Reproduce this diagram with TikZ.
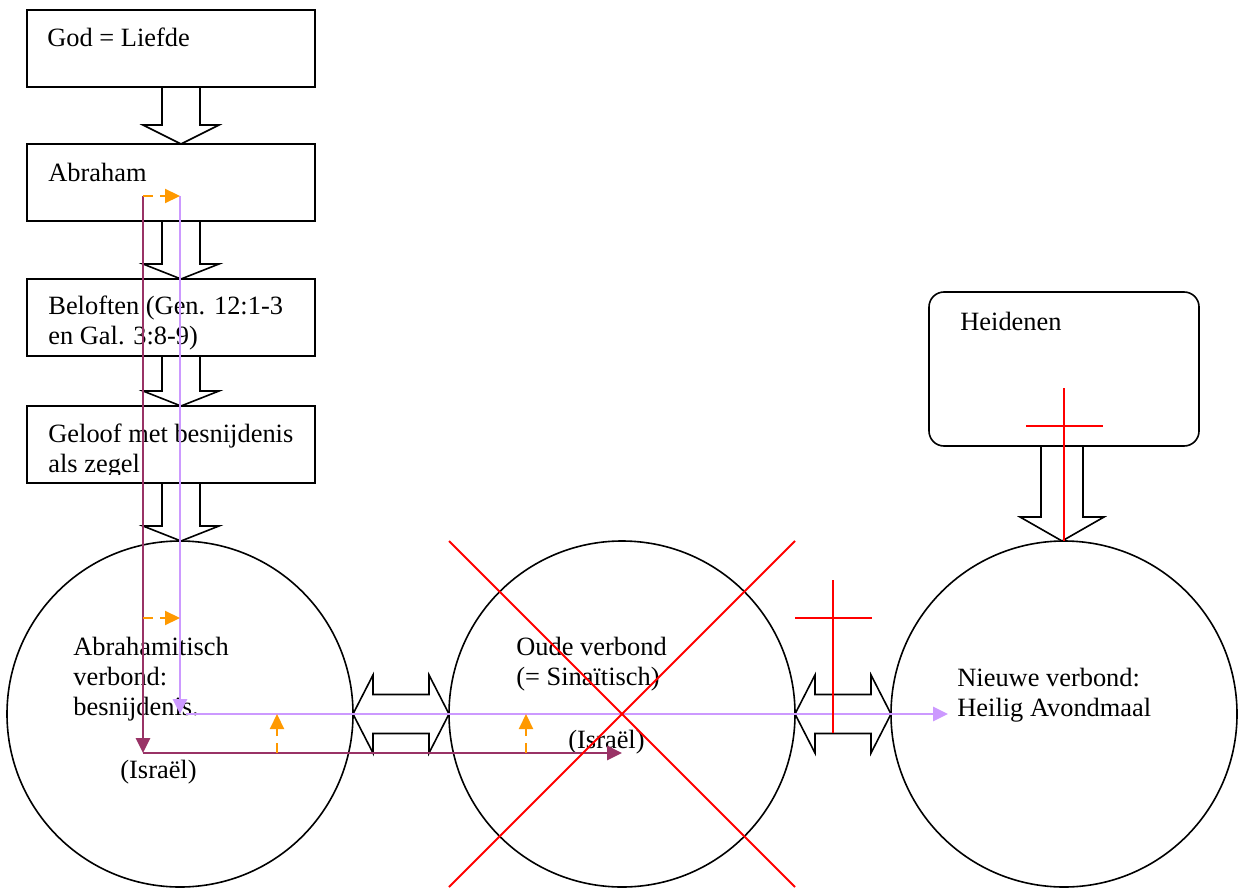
\documentclass[tikz,border=0pt]{standalone}
\usepackage{fontspec}
\setmainfont{Liberation Serif}
\usetikzlibrary{arrows.meta,positioning,calc}
\definecolor{lila}{HTML}{CC99FF}
\definecolor{pruim}{HTML}{993366}
\definecolor{oranje}{HTML}{FF9900}
\tikzset{
	>={Triangle[length=7.5pt,width=7pt]}, node distance=28.5pt,
	vak/.style={draw, line width=0.8pt, minimum width=144pt, minimum height=38.5pt, inner sep=0pt, outer sep=0pt},
	cirkel/.style={draw, circle, line width=0.8pt, minimum size=173pt, inner sep=0pt, outer sep=0pt},
	tekst/.style={font=\fontsize{13.2pt}{15pt}\selectfont, inner sep=0pt, anchor=base west, align=left},
	blok/.style={draw, line width=0.8pt, line join=miter},
	lijn/.style={->, line width=1.4pt},
	stip/.style={->, oranje, line width=1.1pt, dash pattern=on 5pt off 3.5pt},
	kruis/.style={red, line width=0.9pt},
}
% van, naar, x, halve schacht, halve kop, koplengte
\newcommand{\blokpijl}[6]{%
	\draw[blok] ($(#3,0 |- #1.south)+(-#4,0)$) -- ($(#3,0 |- #2.north)+(-#4,-#6)$) -- ++(#4-#5,0)
		-- (#3,0 |- #2.north) -- ++(#5,-#6) -- ++(#4-#5,0) -- ($(#3,0 |- #1.south)+(#4,0)$);}
\newcommand{\dubbelpijl}[2]{%
	\draw[blok] (#1.east) -- ++(20,-39) -- ++(0,19.5) -- ($(#2.west)+(-20,-19.5)$) -- ++(0,-19.5)
		-- (#2.west) -- ++(-20,39) -- ++(0,-19.5) -- ($(#1.east)+(20,19.5)$) -- ++(0,19.5) -- cycle;}
\begin{document}
\begin{tikzpicture}[x=0.5pt, y=-0.5pt]
	\useasboundingbox (0,0) rectangle (1245,887);
	\node[vak] (god) at (171,48.5) {};
	\node[vak, below=of god] (abraham) {};
	\node[vak, below=29pt of abraham] (beloften) {};
	\node[vak, below=25pt of beloften] (geloof) {};
	\node[cirkel] (cirkelA) at (180,714) {};
	\node[cirkel, right=48pt of cirkelA] (cirkelO) {};
	\node[cirkel, right=48pt of cirkelO] (cirkelN) {};
	\node[vak, rounded corners=7.5pt, minimum width=135pt, minimum height=77pt, above=47.5pt of cirkelN] (heidenen) {};

	\blokpijl{god}{abraham}{181}{19}{38}{19}
	\blokpijl{abraham}{beloften}{181}{19}{38}{15}
	\blokpijl{beloften}{geloof}{181}{19}{38}{15}
	\blokpijl{geloof}{cirkelA}{181}{19}{38}{15}
	\blokpijl{heidenen}{cirkelN}{1062}{21}{42}{24}
	\dubbelpijl{cirkelA}{cirkelO}
	\dubbelpijl{cirkelO}{cirkelN}

	% bij meerdere regels ligt base op de laatste regel
	\node[tekst] (godtekst) at (47,47) {God = Liefde};
	\node[tekst] (abrahamtekst) at (48,182) {Abraham};
	\node[tekst] (beloftentekst) at (48,344) {Beloften (Gen. 12:1-3\\en Gal. 3:8-9)};
	\begin{scope}
		\clip (27,407) rectangle (315,474);
		\node[tekst] (gelooftekst) at (48,472) {Geloof met besnijdenis\\als zegel};
	\end{scope}
	\node[tekst] (heidenentekst) at (960,330) {Heidenen};
	\node[tekst] (abrahamitisch) at (73,715) {Abrahamitisch\\verbond:\\besnijdenis.};
	\node[tekst] (oudtekst) at (516,685) {Oude verbond\\(= Sinaïtisch)};
	\node[tekst] (nieuwtekst) at (957,716) {Nieuwe verbond:\\Heilig Avondmaal};
	\node[tekst] (israel1) at (120,778) {(Israël)};
	\node[tekst] (israel2) at (568,748) {(Israël)};

	\coordinate (pstart) at (143,196);
	\coordinate (lstart) at (180,196);
	\coordinate (pknik) at (143,753);
	\coordinate (lknik) at (180,714);
	\coordinate (lverder) at (186,714);
	\coordinate (leind) at (948,714);
	\coordinate (o2a) at (143,618);
	\coordinate (o2b) at (180,618);
	\coordinate (o3a) at (277,753);
	\coordinate (o3b) at (277,714);
	\coordinate (o4a) at (526,753);
	\coordinate (o4b) at (526,714);

	\draw[lijn, pruim] (pstart) -- (pknik);
	\draw[lijn, pruim] (pknik) -- (cirkelO.center |- pknik);
	\draw[lijn, lila] (lstart) -- (lknik);
	\draw[lijn, lila] (lverder) -- (leind);
	\draw[stip] (pstart) -- (lstart);
	\draw[stip] (o2a) -- (o2b);
	\draw[stip] (o3a) -- (o3b);
	\draw[stip] (o4a) -- (o4b);

	\draw[kruis] (cirkelO.west |- cirkelO.north) -- (cirkelO.east |- cirkelO.south);
	\draw[kruis] (cirkelO.east |- cirkelO.north) -- (cirkelO.west |- cirkelO.south);
	\draw[kruis] (1064,388) -- (cirkelN.north);
	\draw[kruis] (1026,426) -- (1103,426);
	\draw[kruis] (833,580) -- (833,733);
	\draw[kruis] (795,618) -- (872,618);
\end{tikzpicture}
\end{document}
